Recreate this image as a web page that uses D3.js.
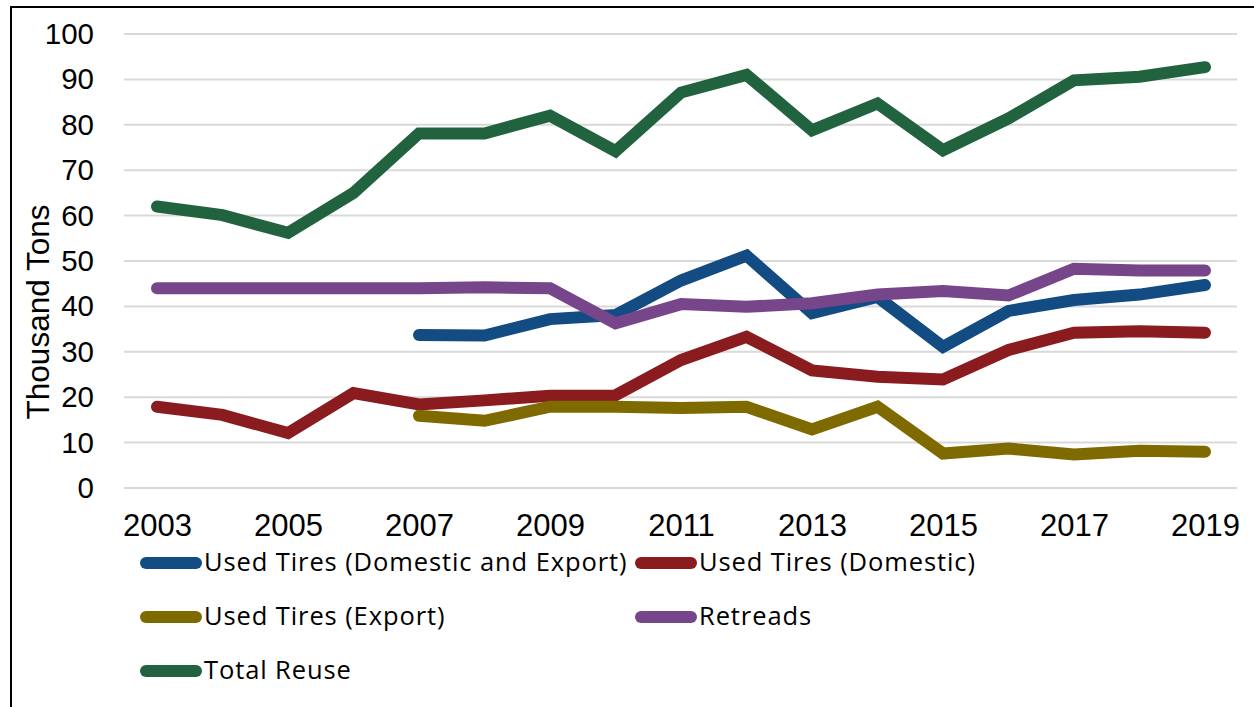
<script src="https://d3js.org/d3.v7.min.js"></script>
<style>
 body { margin: 0; background: #fff; }
</style>
<svg width="1254" height="707"></svg>
<script>
 var years = d3.range(2003, 2020);
 var tickYears = [2003, 2005, 2007, 2009, 2011, 2013, 2015, 2017, 2019];
 var yTicks = [0, 10, 20, 30, 40, 50, 60, 70, 80, 90, 100];

 // null = no data that year
 var usedDomExp = [null, null, null, null, 33.7, 33.6, 37.2, 38.1, 45.7, 51.2, 38.5, 42.1, 31.1, 39.0, 41.4, 42.6, 44.7];
 var usedDomestic = [17.9, 16.1, 12.1, 20.9, 18.4, 19.3, 20.3, 20.4, 28.2, 33.3, 25.9, 24.5, 23.9, 30.4, 34.2, 34.5, 34.2];
 var usedExport = [null, null, null, null, 15.9, 14.8, 17.9, 17.9, 17.6, 17.9, 12.9, 17.9, 7.6, 8.7, 7.4, 8.2, 8.0];
 var retreads = [44, 44, 44, 44, 44, 44.2, 44.0, 36.3, 40.5, 39.9, 40.7, 42.6, 43.4, 42.4, 48.3, 47.9, 47.9];
 var totalReuse = [62.0, 60.1, 56.2, 65.0, 78.1, 78.1, 82.0, 74.2, 87.1, 91.0, 78.8, 84.7, 74.4, 81.4, 89.8, 90.6, 92.7];

 var seriesNames = ["Used Tires (Domestic and Export)", "Used Tires (Domestic)", "Used Tires (Export)", "Retreads", "Total Reuse"];
 var seriesValues = [usedDomExp, usedDomestic, usedExport, retreads, totalReuse];
 var colors = ["#134b83", "#8a1c1f", "#7f6a00", "#77458a", "#22633f"];

 var svg = d3.select("svg");

 // outer frame
 svg.append("rect").attr("x", 11).attr("y", 7).attr("width", 1260).attr("height", 720)
    .attr("fill", "none").attr("stroke", "#000").attr("stroke-width", 2);

 var x = d3.scalePoint().domain(years).range([157, 1205]);
 var y = d3.scaleLinear().domain([0, 100]).range([488, 34]);

 // gridlines
 svg.append("g").selectAll("line").data(yTicks).enter().append("line")
    .attr("x1", 124).attr("x2", 1237)
    .attr("y1", function (d) { return y(d); }).attr("y2", function (d) { return y(d); })
    .attr("stroke", "#d9d9d9").attr("stroke-width", 2);

 var yAxis = svg.append("g").attr("transform", "translate(124,0)")
    .call(d3.axisLeft(y).tickValues(yTicks).tickSize(0).tickPadding(30));
 yAxis.select(".domain").remove();
 yAxis.selectAll("text").attr("font-family", "Liberation Sans, Arial, sans-serif")
    .attr("font-size", "29.5px").attr("fill", "#000");

 var xAxis = svg.append("g").attr("transform", "translate(0,488)")
    .call(d3.axisBottom(x).tickValues(tickYears).tickSize(0).tickPadding(26).tickFormat(d3.format("d")));
 xAxis.select(".domain").remove();
 xAxis.selectAll("text").attr("font-family", "Liberation Sans, Arial, sans-serif")
    .attr("font-size", "31px").attr("fill", "#000");

 svg.append("text")
    .attr("transform", "translate(49,312) rotate(-90)")
    .attr("text-anchor", "middle")
    .attr("font-family", "Liberation Sans, Arial, sans-serif")
    .attr("font-size", "31.5px")
    .text("Thousand Tons");

 var line = d3.line()
    .defined(function (d) { return d != null; })
    .x(function (d, i) { return x(years[i]); })
    .y(function (d) { return y(d); });

 var g = svg.append("g");
 seriesValues.forEach(function (vals, k) {
     g.append("path")
        .attr("d", line(vals))
        .attr("fill", "none")
        .attr("stroke", colors[k])
        .attr("stroke-width", 12)
        .attr("stroke-linecap", "round")
        .attr("stroke-linejoin", "miter");
 });

 // legend
 var legendPos = [[146, 563], [641, 563], [146, 617], [641, 617], [146, 671]];
 var lg = svg.append("g");
 seriesNames.forEach(function (name, k) {
     var p = legendPos[k];
     lg.append("line")
        .attr("x1", p[0]).attr("x2", p[0] + 50)
        .attr("y1", p[1]).attr("y2", p[1])
        .attr("stroke", colors[k]).attr("stroke-width", 12).attr("stroke-linecap", "round");
     lg.append("text")
        .attr("x", p[0] + 58).attr("y", p[1] + 8)
        .attr("font-family", "Open Sans, sans-serif")
        .attr("font-size", "25.5px")
        .attr("letter-spacing", "0.9px")
        .text(name);
 });
</script>
